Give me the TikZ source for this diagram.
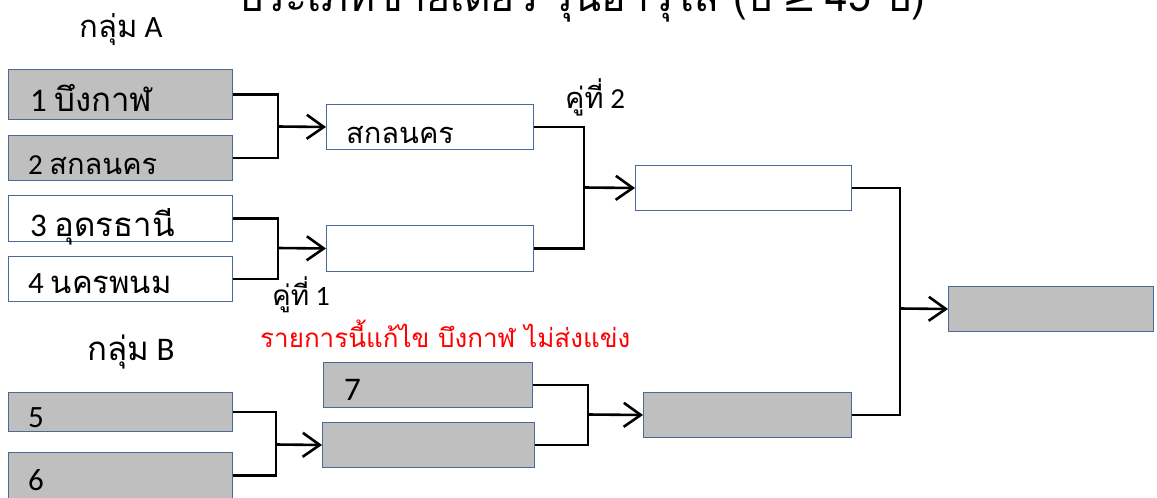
\documentclass[tikz,border=0pt]{standalone}
\usepackage{fontspec}
\setmainfont{Carlito}
\newfontfamily\thai[Script=Thai]{Loma}
\newfontfamily\dejav{DejaVu Sans}
\usetikzlibrary{arrows.meta}
\definecolor{boxgray}{HTML}{BFBFBF}
\definecolor{boxedge}{HTML}{4A6A98}
\tikzset{
  slot/.style={draw=boxedge, line width=1pt, rectangle, inner sep=0pt, anchor=north west},
  gslot/.style={slot, fill=boxgray},
  wslot/.style={slot, fill=white},
  conn/.style={line width=2.6pt, black},
  arr/.style={conn, -{Straight Barb[length=17pt, width=24pt, line width=2.6pt]}},
  lbl/.style={anchor=base west, inner sep=0pt, text=black},
}
\begin{document}
\begin{tikzpicture}[x=1pt, y=-1pt]
\useasboundingbox (0,0) rectangle (1157,498);
\clip (0,0) rectangle (1157,498);

% title (cut by the top edge, as in the reference)
\node[anchor=base, inner sep=0pt, font=\fontsize{41}{46}\selectfont] (title) at (581,11)
  {{\thai ประเภทชายเดี่ยว รุ่นอาวุโส (ปี} {\dejav ≥} {\thai 45 ปี)}};

% group labels
\node[anchor=base, inner sep=0pt, font=\fontsize{31}{36}\selectfont] (ga) at (121,37) {{\thai กลุ่ม} A};
\node[anchor=base, inner sep=0pt, font=\fontsize{33}{38}\selectfont] (gb) at (131,360) {{\thai กลุ่ม} B};

% first round boxes
\node[gslot, minimum width=224pt, minimum height=50pt] (a1) at (8,69) {};
\node[gslot, minimum width=224pt, minimum height=45pt] (a2) at (8,135) {};
\node[wslot, minimum width=224pt, minimum height=46pt] (a3) at (8,195) {};
\node[wslot, minimum width=224pt, minimum height=45pt] (a4) at (8,256) {};
\node[gslot, minimum width=224pt, minimum height=39pt] (b5) at (8,392) {};
\node[gslot, minimum width=224pt, minimum height=46pt] (b6) at (8,452) {};

\node[lbl, font=\fontsize{33}{38}\selectfont] (t1) at (30,111) {1 {\thai บึงกาฬ}};
\node[lbl, font=\fontsize{29}{34}\selectfont] (t2) at (28,174) {2 {\thai สกลนคร}};
\node[lbl, font=\fontsize{33}{38}\selectfont] (t3) at (30,236) {3 {\thai อุดรธานี}};
\node[lbl, font=\fontsize{31}{36}\selectfont] (t4) at (28,293) {4 {\thai นครพนม}};
\node[lbl, font=\fontsize{31}{36}\selectfont] (t5) at (28,427) {5};
\node[lbl, font=\fontsize{31}{36}\selectfont] (t6) at (28,490) {6};

% second round boxes
\node[wslot, minimum width=207pt, minimum height=45pt] (r1) at (326,104) {};
\node[wslot, minimum width=207pt, minimum height=46pt] (r2) at (326,225) {};
\node[gslot, minimum width=209pt, minimum height=45pt] (r3) at (323,362) {};
\node[gslot, minimum width=212pt, minimum height=45pt] (r4) at (322,422) {};
\node[lbl, font=\fontsize{29}{34}\selectfont] (tr1) at (346,143) {\thai สกลนคร};
\node[lbl, font=\fontsize{33}{38}\selectfont] (tr3) at (344,400) {7};

% semi-final and final boxes
\node[wslot, minimum width=216pt, minimum height=45pt] (s1) at (635,165) {};
\node[gslot, minimum width=208pt, minimum height=45pt] (s2) at (643,392) {};
\node[gslot, minimum width=205pt, minimum height=45pt] (f) at (948,286) {};

% junctions
\coordinate (j1) at (278,126.5);
\coordinate (j2) at (278,248);
\coordinate (j3) at (276,444.5);
\coordinate (j4) at (584,187.5);
\coordinate (j5) at (588,414.5);
\coordinate (j6) at (900,308.5);

\draw[conn] (a1.east) -| (j1) |- (a2.east);
\draw[arr] (j1) -- (r1.west);
\draw[conn] (a3.east) -| (j2) |- (a4.east);
\draw[arr] (j2) -- (r2.west);
\draw[conn] (b5.east) -| (j3) |- (b6.east);
\draw[arr] (j3) -- (r4.west);
\draw[conn] (r1.east) -| (j4) |- (r2.east);
\draw[arr] (j4) -- (s1.west);
\draw[conn] (r3.east) -| (j5) |- (r4.east);
\draw[arr] (j5) -- (s2.west);
\draw[conn] (s1.east) -| (j6) |- (s2.east);
\draw[arr] (j6) -- (f.west);

% pair labels
\node[lbl, font=\fontsize{28}{32}\selectfont] (k1) at (272,305) {{\thai คู่ที่} 1};
\node[lbl, font=\fontsize{29}{33}\selectfont] (k2) at (565,108) {{\thai คู่ที่} 2};

% note
\node[lbl, text=red, font=\fontsize{26}{31}\selectfont] (note) at (260,347) {\thai รายการนี้แก้ไข บึงกาฬ ไม่ส่งแข่ง};
\end{tikzpicture}
\end{document}
